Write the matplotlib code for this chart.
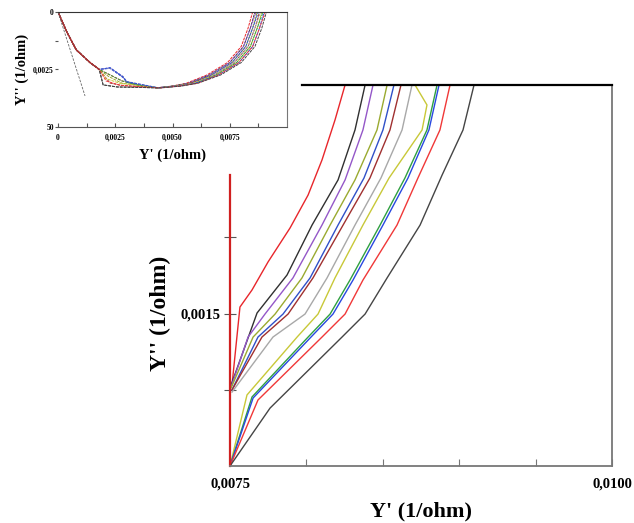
import matplotlib
matplotlib.use("Agg")
import matplotlib.pyplot as plt
from matplotlib.ticker import FixedLocator, FixedFormatter

plt.rcParams['font.family'] = ['Liberation Serif', 'DejaVu Serif']
plt.rcParams['font.weight'] = 'bold'

colors = ['#e8262b', '#303030', '#9457c8', '#9aaa30', '#3050c8', '#a03030',
          '#a8a8a8', '#c8c838', '#30a040', '#2848e0', '#f03838', '#454545']

# main (zoomed) plot: right branch of the arcs
main_x = [
    [0.008253, 0.008187, 0.008102, 0.008011, 0.007893, 0.007749, 0.007644, 0.007565, 0.007513],
    [0.008384, 0.008318, 0.008207, 0.008037, 0.007873, 0.007677, 0.007507],
    [0.008436, 0.008370, 0.008253, 0.008102, 0.007912, 0.007729, 0.007618, 0.007507],
    [0.008528, 0.008462, 0.008318, 0.008155, 0.007971, 0.007795, 0.007651, 0.007507],
    [0.008573, 0.008501, 0.008377, 0.008207, 0.008024, 0.007847, 0.007683, 0.007513],
    [0.008619, 0.008547, 0.008416, 0.008240, 0.008043, 0.007880, 0.007709, 0.007513],
    [0.008691, 0.008626, 0.008488, 0.008318, 0.008135, 0.007991, 0.007781, 0.007513],
    [0.008711, 0.008789, 0.008757, 0.008541, 0.008370, 0.008187, 0.008076, 0.007939, 0.007611, 0.0075],
    [0.008855, 0.008789, 0.008645, 0.008482, 0.008285, 0.008155, 0.008011, 0.007644, 0.0075],
    [0.008868, 0.008802, 0.008665, 0.008501, 0.008305, 0.008174, 0.008030, 0.007651, 0.0075],
    [0.008940, 0.008874, 0.008730, 0.008593, 0.008370, 0.008253, 0.008102, 0.007683, 0.0075],
    [0.009097, 0.009025, 0.008888, 0.008744, 0.008528, 0.008384, 0.008233, 0.007762, 0.0075],
]
main_y = [
    [0, 0.000230, 0.000492, 0.000722, 0.000938, 0.001161, 0.001345, 0.001457, 0.001969],
    [0, 0.000295, 0.000623, 0.000919, 0.001247, 0.001496, 0.001969],
    [0, 0.000295, 0.000623, 0.000919, 0.001266, 0.001503, 0.001654, 0.001982],
    [0, 0.000295, 0.000623, 0.000919, 0.001266, 0.001503, 0.001654, 0.001988],
    [0, 0.000295, 0.000610, 0.000919, 0.001266, 0.001503, 0.001654, 0.002001],
    [0, 0.000295, 0.000610, 0.000919, 0.001266, 0.001503, 0.001654, 0.002001],
    [0, 0.000295, 0.000610, 0.000919, 0.001266, 0.001503, 0.001654, 0.002015],
    [0, 0.000131, 0.000295, 0.000610, 0.000919, 0.001266, 0.001503, 0.001654, 0.002034, 0.0025],
    [0, 0.000295, 0.000610, 0.000919, 0.001280, 0.001503, 0.001654, 0.002047, 0.0025],
    [0, 0.000295, 0.000610, 0.000919, 0.001280, 0.001503, 0.001654, 0.002054, 0.0025],
    [0, 0.000295, 0.000610, 0.000919, 0.001280, 0.001503, 0.001654, 0.002067, 0.0025],
    [0, 0.000295, 0.000591, 0.000919, 0.001266, 0.001503, 0.001654, 0.002120, 0.0025],
]

# inset: full arcs
inset_head_x = [0, 0.0004, 0.0008, 0.0014, 0.0018]
inset_head_y = [0, 0.0009, 0.00165, 0.0022, 0.0025]
inset_mid_x = [
    [0.0022, 0.0028, 0.0036], [0.00197, 0.00258, 0.0036], [0.00227, 0.00284, 0.0030],
    [0.0022, 0.0028, 0.0036], [0.00227, 0.00284, 0.0030], [0.00227, 0.0028, 0.0036],
    [0.00227, 0.00284, 0.0030], [0.0021, 0.0027, 0.0036], [0.0022, 0.0028, 0.0036],
    [0.00227, 0.00284, 0.0030], [0.0021, 0.0027, 0.0036], [0.00197, 0.00258, 0.0036],
]
inset_mid_y = [
    [0.0027, 0.0030, 0.0032], [0.00317, 0.00326, 0.00328], [0.00243, 0.00283, 0.00304],
    [0.0028, 0.0031, 0.0032], [0.00245, 0.00285, 0.00306], [0.00309, 0.0032, 0.00325],
    [0.00243, 0.0028, 0.00302], [0.0029, 0.0031, 0.0032], [0.0027, 0.0030, 0.0032],
    [0.00242, 0.00282, 0.00303], [0.0030, 0.00318, 0.00325], [0.00317, 0.00326, 0.00328],
]
inset_arc_y = [0.0033, 0.00322, 0.0031, 0.00274, 0.0022, 0.0015, 0.0007, 0]
inset_arc_x = [
    [0.0043, 0.0050, 0.0056, 0.0065, 0.0074, 0.0080, 0.0083, 0.0085],
    [0.0043, 0.0050, 0.0057, 0.0066, 0.0075, 0.0081, 0.0084, 0.0086],
    [0.0043, 0.0051, 0.0057, 0.0066, 0.0075, 0.0081, 0.0084, 0.00865],
    [0.0043, 0.0051, 0.0058, 0.0067, 0.0076, 0.0082, 0.0085, 0.0087],
    [0.0043, 0.0051, 0.0058, 0.0067, 0.0076, 0.0082, 0.0085, 0.00875],
    [0.0044, 0.0052, 0.0058, 0.0068, 0.0077, 0.0083, 0.0086, 0.0088],
    [0.0044, 0.0052, 0.0059, 0.0068, 0.0077, 0.0083, 0.0086, 0.00885],
    [0.0044, 0.0052, 0.0059, 0.0069, 0.0078, 0.0084, 0.0087, 0.0089],
    [0.0044, 0.0053, 0.0060, 0.0069, 0.0078, 0.0084, 0.0087, 0.00895],
    [0.0044, 0.0053, 0.0060, 0.0070, 0.0079, 0.0085, 0.0088, 0.0090],
    [0.0045, 0.0053, 0.0061, 0.0070, 0.0079, 0.0085, 0.0088, 0.00905],
    [0.0045, 0.0054, 0.0061, 0.0071, 0.0080, 0.0086, 0.0089, 0.0091],
]
fit_x = [0, 0.00118]
fit_y = [0, 0.00365]

fig = plt.figure(figsize=(6.34, 5.23), dpi=100)

# ---- main plot ----
ax = fig.add_axes([0.3628, 0.109, 0.6025, 0.7285])
for xs, ys, c in zip(main_x, main_y, colors):
    ax.plot(xs, ys, color=c, lw=1.0)
ax.set_xlim(0.0075, 0.0100)
ax.set_ylim(0.0025, 0)
ax.spines['left'].set_color('#d02020')
ax.spines['left'].set_linewidth(1.6)
ax.spines['left'].set_bounds(0.00059, 0.0025)
ax.spines['top'].set_color('black')
ax.spines['top'].set_linewidth(1.6)
ax.spines['top'].set_bounds(0.007971, 0.0100)
ax.spines['right'].set_color('#777777')
ax.spines['bottom'].set_color('#777777')
ax.spines['right'].set_linewidth(1.3)
ax.spines['bottom'].set_linewidth(1.3)
xt = [0.0075, 0.0080, 0.0085, 0.0090, 0.0095, 0.0100]
ax.xaxis.set_major_locator(FixedLocator(xt))
ax.xaxis.set_major_formatter(FixedFormatter(['0,0075', '', '', '', '', '0,0100']))
yt = [0.0010, 0.0015, 0.0020]
ax.yaxis.set_major_locator(FixedLocator(yt))
ax.yaxis.set_major_formatter(FixedFormatter(['', '0,0015', '']))
ax.tick_params(axis='x', direction='in', length=5, color='#777777', labelsize=10.5, pad=8)
ax.tick_params(axis='y', direction='inout', length=8, color='#555555', labelsize=10.5, pad=3)
ax.set_xlabel("Y' (1/ohm)", fontsize=16, fontweight='bold', labelpad=8)
ax.set_ylabel("Y'' (1/ohm)", fontsize=17, fontweight='bold')
ax.yaxis.set_label_coords(-0.155, 0.40)

# ---- inset ----
ins = fig.add_axes([0.0915, 0.7572, 0.3612, 0.2199])
for mx, arc_x, my, c in zip(inset_mid_x, inset_arc_x, inset_mid_y, colors):
    ins.plot(inset_head_x + mx + arc_x, inset_head_y + my + inset_arc_y, color=c, lw=0.7,
             dashes=(3, 1))
ins.plot(inset_head_x, inset_head_y, color='#b03030', lw=1.0)
ins.plot(fit_x, fit_y, color='#666666', lw=0.6, dashes=(3, 1.5))
ins.set_xlim(0, 0.0100)
ins.set_ylim(0.0050, 0)
ins.spines['left'].set_visible(False)
ins.spines['top'].set_color('#333333')
ins.spines['right'].set_color('#777777')
ins.spines['bottom'].set_color('#555555')
ins.xaxis.set_major_locator(FixedLocator([0, 0.00125, 0.0025, 0.00375, 0.005, 0.00625, 0.0075, 0.00875]))
ins.xaxis.set_major_formatter(FixedFormatter(['0', '', '0,0025', '', '0,0050', '', '0,0075', '']))
ins.yaxis.set_major_locator(FixedLocator([0, 0.00125, 0.0025, 0.005]))
ins.yaxis.set_major_formatter(FixedFormatter(['0', '', '0,0025', '50']))
ins.tick_params(axis='x', direction='in', length=3, labelsize=5.5, pad=5, color='#555555')
ins.tick_params(axis='y', direction='out', length=2, labelsize=5.5, pad=1, color='#555555')
ins.set_xlabel("Y' (1/ohm)", fontsize=10.5, fontweight='bold', labelpad=5)
ins.set_ylabel("Y'' (1/ohm)", fontsize=10.5, fontweight='bold', labelpad=3)

fig.savefig('out.png', dpi=100)
